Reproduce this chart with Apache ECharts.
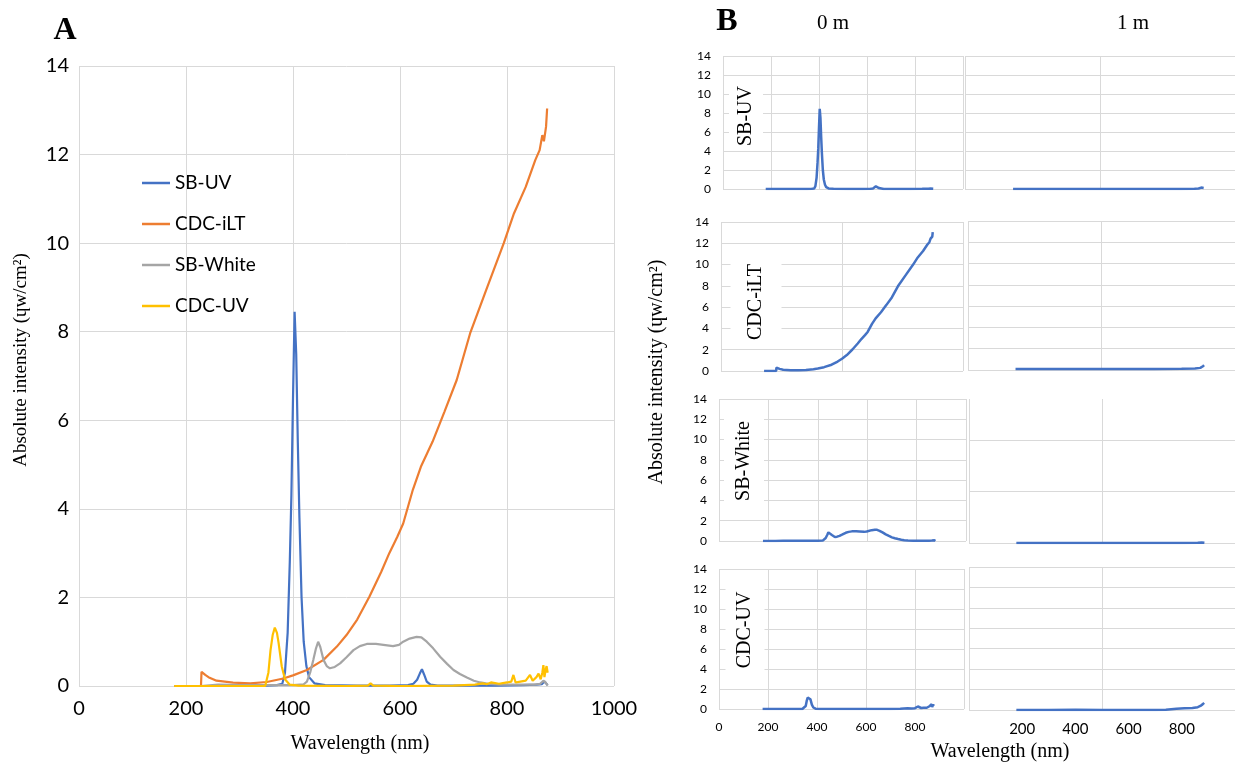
<!DOCTYPE html>
<html>
<head>
<meta charset="utf-8">
<script src="https://cdn.jsdelivr.net/npm/echarts@6/dist/echarts.min.js"></script>
<style>
html,body{margin:0;padding:0;background:#fff;}
#c{width:1235px;height:763px;}
</style>
</head>
<body>
<div id="c"></div>
<script>
// ---------- data ----------
const seriesNames = ['SB-UV', 'CDC-iLT', 'SB-White', 'CDC-UV'];

const sbUvWl  = [178, 250, 300, 350, 370, 380, 385, 390, 394, 397, 400, 403, 406, 409, 412, 416, 420, 425, 430, 440, 460, 520, 580, 615, 625, 632, 637, 641, 645, 650, 657, 670, 720, 780, 830, 855, 865, 870, 873, 876];
const sbUvVal = [0, 0, 0, 0.01, 0.02, 0.05, 0.3, 1.2, 2.8, 4.3, 6.5, 8.45, 7.5, 5.5, 3.8, 2.0, 1.0, 0.45, 0.2, 0.06, 0.02, 0.01, 0.01, 0.02, 0.05, 0.14, 0.28, 0.38, 0.26, 0.1, 0.03, 0.01, 0.01, 0.01, 0.02, 0.03, 0.04, 0.1, 0.12, 0.02];

const cdcIltWl  = [178, 228, 229, 236, 242, 257, 288, 320, 351, 382, 400, 426, 457, 482, 500, 520, 543, 565, 580, 595, 606, 624, 639, 661, 683, 706, 731, 761, 794, 813, 835, 853, 861, 866, 869, 873, 875];
const cdcIltVal = [0, 0, 0.32, 0.25, 0.2, 0.12, 0.075, 0.06, 0.09, 0.17, 0.24, 0.36, 0.59, 0.89, 1.15, 1.5, 2.02, 2.58, 3.0, 3.37, 3.67, 4.43, 4.95, 5.52, 6.19, 6.91, 7.96, 8.94, 10.0, 10.67, 11.27, 11.88, 12.1, 12.44, 12.3, 12.63, 13.04];

const sbWhiteWl  = [178, 228, 230, 260, 300, 350, 400, 420, 426, 432, 438, 443, 447, 451, 457, 463, 469, 478, 488, 500, 513, 525, 538, 555, 569, 587, 598, 606, 618, 631, 640, 650, 662, 675, 688, 700, 712, 725, 738, 750, 765, 787, 820, 850, 862, 868, 872, 876];
const sbWhiteVal = [0, 0, 0.04, 0.03, 0.02, 0.02, 0.02, 0.04, 0.1, 0.3, 0.59, 0.85, 1.0, 0.88, 0.59, 0.45, 0.4, 0.43, 0.51, 0.65, 0.81, 0.9, 0.95, 0.95, 0.93, 0.9, 0.93, 1.0, 1.07, 1.11, 1.1, 1.0, 0.85, 0.66, 0.5, 0.36, 0.27, 0.19, 0.12, 0.08, 0.05, 0.03, 0.03, 0.03, 0.05, 0.12, 0.08, 0.01];

const cdcUvWl  = [178, 340, 348, 354, 358, 362, 366, 370, 373, 379, 385, 394, 410, 500, 540, 545, 550, 600, 700, 740, 755, 762, 770, 785, 800, 808, 812, 816, 825, 835, 843, 848, 855, 859, 863, 866, 868, 870, 872, 874, 876];
const cdcUvVal = [0, 0, 0.0, 0.3, 0.81, 1.15, 1.32, 1.2, 0.98, 0.44, 0.15, 0.03, 0.01, 0.0, 0.01, 0.06, 0.01, 0.0, 0.01, 0.03, 0.06, 0.04, 0.08, 0.05, 0.08, 0.1, 0.25, 0.08, 0.1, 0.12, 0.25, 0.12, 0.2, 0.28, 0.15, 0.3, 0.47, 0.2, 0.35, 0.45, 0.3];

// 1 m measurements
const sbUv1mWl  = [178, 300, 400, 500, 600, 700, 800, 850, 865, 875, 880, 884];
const sbUv1mVal = [0, 0, 0.01, 0, 0, 0, 0, 0.02, 0.05, 0.15, 0.25, 0.1];
const cdcIlt1mWl  = [178, 300, 400, 500, 600, 700, 800, 850, 870, 880, 884];
const cdcIlt1mVal = [0.1, 0.1, 0.1, 0.1, 0.1, 0.1, 0.12, 0.15, 0.2, 0.35, 0.45];
const sbWhite1mWl  = [178, 300, 400, 500, 600, 700, 800, 860, 875, 881, 885];
const sbWhite1mVal = [0, 0, 0, 0, 0, 0, 0, 0.02, 0.05, 0.2, 0.02];
const cdcUv1mWl  = [178, 300, 400, 500, 600, 700, 740, 780, 810, 840, 860, 870, 878, 884];
const cdcUv1mVal = [0, 0, 0.02, 0, 0, 0, 0.03, 0.12, 0.17, 0.2, 0.28, 0.4, 0.55, 0.7];

// ---------- styling ----------
const COLORS = ['#4472C4', '#ED7D31', '#A5A5A5', '#FFC000'];
const BLUE = '#4472C4';
const GRID = '#d9d9d9';
const SANS = 'Lato, "Liberation Sans", sans-serif';
const SERIF = '"Liberation Serif", "DejaVu Serif", serif';

function pairs(xs, ys) { return xs.map((x, i) => [x, ys[i]]); }
const plain = v => String(v);

const grids = [
  {left: 79,  top: 66,  width: 535, height: 620},  // A
  {left: 723, top: 56,  width: 240, height: 133},  // B r1 L
  {left: 965, top: 56,  width: 278, height: 133},  // B r1 R
  {left: 721, top: 222, width: 242, height: 149},  // B r2 L
  {left: 968, top: 221, width: 278, height: 149},  // B r2 R
  {left: 719, top: 399, width: 247, height: 142},  // B r3 L
  {left: 969, top: 399, width: 276, height: 144},  // B r3 R
  {left: 719, top: 569, width: 245, height: 140},  // B r4 L
  {left: 969, top: 567, width: 272, height: 143}   // B r4 R
];

function lab(show, fs, margin, extra) {
  return Object.assign({show: show, color: '#000', fontFamily: SANS, fontSize: fs, margin: margin, formatter: plain}, extra || {});
}
function xAx(gi, interval, label, extra) {
  return Object.assign({
    type: 'value', gridIndex: gi, min: 0, max: 1000, interval: interval, position: 'bottom',
    axisLine: {show: false}, axisTick: {show: false},
    axisLabel: label || lab(false, 12, 12),
    splitLine: {show: true, lineStyle: {color: GRID, width: 1}}
  }, extra || {});
}
function yAx(gi, interval, label, extra) {
  return Object.assign({
    type: 'value', gridIndex: gi, min: 0, max: 14, interval: interval,
    axisLine: {show: false}, axisTick: {show: false},
    axisLabel: label || lab(false, 12, 12),
    splitLine: {show: true, lineStyle: {color: GRID, width: 1}}
  }, extra || {});
}

const xAxes = [
  xAx(0, 200, lab(true, 20, 13)),
  xAx(1, 200),
  xAx(2, 500),
  xAx(3, 500),
  xAx(4, 500),
  xAx(5, 200),
  xAx(6, 500),
  xAx(7, 200, lab(true, 12, 12, {showMaxLabel: false})),
  xAx(8, 500),
  xAx(8, 200, lab(true, 15, 12, {showMinLabel: false, showMaxLabel: false}), {splitLine: {show: false}})
];
const yAxes = [
  yAx(0, 2, lab(true, 20, 10)),
  yAx(1, 2, lab(true, 12, 12)),
  yAx(2, 2),
  yAx(3, 2, lab(true, 12, 12)),
  yAx(4, 2),
  yAx(5, 2, lab(true, 12, 12)),
  yAx(6, 5, null, {splitLine: {show: true, lineStyle: {color: [GRID, GRID, GRID, 'rgba(0,0,0,0)'], width: 1}}}),
  yAx(7, 2, lab(true, 12, 12)),
  yAx(8, 2)
];

const aData = [pairs(sbUvWl, sbUvVal), pairs(cdcIltWl, cdcIltVal), pairs(sbWhiteWl, sbWhiteVal), pairs(cdcUvWl, cdcUvVal)];
const bData = [
  pairs(sbUvWl, sbUvVal), pairs(sbUv1mWl, sbUv1mVal),
  pairs(cdcIltWl, cdcIltVal), pairs(cdcIlt1mWl, cdcIlt1mVal),
  pairs(sbWhiteWl, sbWhiteVal), pairs(sbWhite1mWl, sbWhite1mVal),
  pairs(cdcUvWl, cdcUvVal), pairs(cdcUv1mWl, cdcUv1mVal)
];

const series = [];
seriesNames.forEach((n, i) => {
  series.push({
    name: n, type: 'line', xAxisIndex: 0, yAxisIndex: 0, data: aData[i],
    symbol: 'none', lineStyle: {color: COLORS[i], width: 2.2}, itemStyle: {color: COLORS[i]},
    z: 2 + i, animation: false
  });
});
const bX = [1, 2, 3, 4, 5, 6, 7, 8];
bData.forEach((d, k) => {
  series.push({
    name: seriesNames[Math.floor(k / 2)] + (k % 2 ? ' 1 m' : ' 0 m'),
    type: 'line', xAxisIndex: bX[k], yAxisIndex: k + 1, data: d,
    symbol: 'none', lineStyle: {color: BLUE, width: 2.5}, itemStyle: {color: BLUE},
    animation: false, z: 3
  });
});

function txt(t, x, y, fs, rot) {
  return {
    type: 'text', x: x, y: y, z: 100, rotation: rot || 0,
    style: {text: t, font: fs + 'px ' + SERIF, fill: '#000', align: 'center', verticalAlign: 'middle'}
  };
}
// padding in the text frame: [top(=screen left), right(=screen top), bottom(=screen right), left(=screen bottom)]
function rowLabel(t, x, y, padLeft, padRight) {
  return {
    type: 'text', x: x, y: y, rotation: Math.PI / 2, z: 100,
    style: {text: t, font: '20px ' + SERIF, fill: '#000', align: 'center', verticalAlign: 'middle',
      backgroundColor: '#fff', padding: [padLeft, 3, padRight, 3]}
  };
}

const graphics = [
  {type: 'text', x: 65, y: 31, z: 100, style: {text: 'A', font: 'bold 32px ' + SERIF, fill: '#000', align: 'center', verticalAlign: 'middle'}},
  {type: 'text', x: 727, y: 22, z: 100, style: {text: 'B', font: 'bold 32px ' + SERIF, fill: '#000', align: 'center', verticalAlign: 'middle'}},
  txt('0 m', 833, 23, 21),
  txt('1 m', 1133, 23, 21),
  txt('Wavelength (nm)', 360, 744, 20),
  txt('Wavelength (nm)', 1000, 752, 20),
  txt('Absolute intensity (ɥw/cm²)', 21, 360, 19, Math.PI / 2),
  txt('Absolute intensity (ɥw/cm²)', 657, 372, 20, Math.PI / 2),
  rowLabel('SB-UV', 746, 116, 12, 2),
  rowLabel('CDC-iLT', 756, 302, 24, 7),
  rowLabel('SB-White', 744, 461, 14, 6),
  rowLabel('CDC-UV', 745, 630, 15, 4)
];

const chart = echarts.init(document.getElementById('c'), null, {renderer: 'canvas'});
chart.setOption({
  backgroundColor: '#fff',
  animation: false,
  grid: grids,
  xAxis: xAxes,
  yAxis: yAxes,
  legend: {
    data: seriesNames, left: 137, top: 168, orient: 'vertical', icon: 'rect',
    itemWidth: 28, itemHeight: 2.5, itemGap: 21,
    textStyle: {fontFamily: SANS, fontSize: 19, color: '#000', lineHeight: 20}
  },
  series: series,
  graphic: graphics
});
</script>
</body>
</html>
